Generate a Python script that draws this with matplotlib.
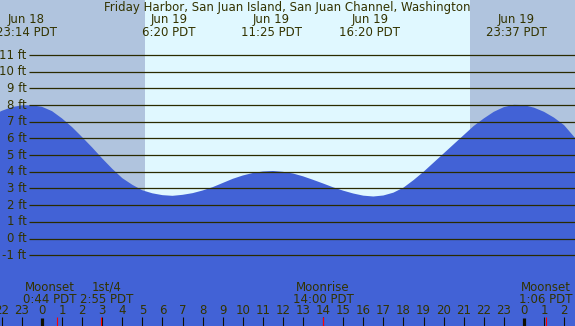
import matplotlib
matplotlib.use("Agg")
import matplotlib.pyplot as plt
import matplotlib.transforms as mtransforms
import numpy as np

# ---------------- data ----------------
title = "Friday Harbor, San Juan Island, San Juan Channel, Washington"

tide_hours = [-2.5, -2.0, -1.5, -1.0, -0.5, 0.0, 0.5, 1.0, 1.5, 2.0, 2.5, 3.0,
              3.5, 4.0, 4.5, 5.0, 5.5, 6.0, 6.5, 7.0, 7.5, 8.0, 8.5, 9.0,
              9.5, 10.0, 10.5, 11.0, 11.5, 12.0, 12.5, 13.0, 13.5, 14.0, 14.5, 15.0,
              15.5, 16.0, 16.5, 17.0, 17.5, 18.0, 18.5, 19.0, 19.5, 20.0, 20.5, 21.0,
              21.5, 22.0, 22.5, 23.0, 23.5, 24.0, 24.5, 25.0, 25.5, 26.0, 26.5, 27.0]
tide_heights = [7.36, 7.66, 7.88, 7.99, 7.99, 7.90, 7.64, 7.20, 6.68, 6.08, 5.46, 4.80,
                4.18, 3.62, 3.22, 2.89, 2.71, 2.60, 2.56, 2.62, 2.72, 2.88, 3.08, 3.33,
                3.58, 3.78, 3.93, 4.02, 4.05, 4.00, 3.90, 3.73, 3.52, 3.30, 3.07, 2.87,
                2.70, 2.57, 2.52, 2.58, 2.75, 3.05, 3.50, 4.00, 4.55, 5.10, 5.65, 6.20,
                6.75, 7.20, 7.60, 7.88, 8.02, 8.00, 7.85, 7.60, 7.25, 6.80, 6.10, 5.40]

extreme_hours = [-0.767, 6.333, 11.417, 16.333, 23.617]
extreme_dates = ["Jun 18", "Jun 19", "Jun 19", "Jun 19", "Jun 19"]
extreme_times = ["23:14 PDT", "6:20 PDT", "11:25 PDT", "16:20 PDT", "23:37 PDT"]

sunrise_hour = 5.13
sunset_hour = 21.31

grid_levels = [-1, 0, 1, 2, 3, 4, 5, 6, 7, 8, 9, 10, 11]
hour_ticks = list(range(-2, 27))
hour_labels = [str(h % 24) for h in hour_ticks]
midnight_hours = [0, 24]

moon_event_hours = [0.733, 2.917, 14.0, 25.1]
moon_event_names = ["Moonset", "1st/4", "Moonrise", "Moonset"]
moon_event_times = ["0:44 PDT", "2:55 PDT", "14:00 PDT", "1:06 PDT"]
moon_label_shift_px = [-6.5, 6.5, 0, 0]

# ---------------- style ----------------
W, H = 575, 326
PX_PER_HOUR = 20.08
PX_PER_FT = 16.67
X0_PX = 42.0     # pixel of hour 0
Y0_PX = 238.5    # pixel of 0 ft (from top)

night_color = "#b0c4de"
day_color = "#e0f8ff"
water_color = "#4262d6"
text_color = "#333300"
line_color = "#2b2b00"
fs = 8.5

plt.rcParams["font.family"] = ["DejaVu Sans"]

fig = plt.figure(figsize=(W / 100, H / 100), dpi=100)
ax = fig.add_axes([0, 0, 1, 1])
xmin = -X0_PX / PX_PER_HOUR
xmax = (W - X0_PX) / PX_PER_HOUR
ymax = Y0_PX / PX_PER_FT
ymin = -(H - Y0_PX) / PX_PER_FT
ax.set_xlim(xmin, xmax)
ax.set_ylim(ymin, ymax)
ax.axis("off")

# background day / night
ax.axvspan(xmin, xmax, color=day_color, zorder=0, lw=0)
ax.axvspan(xmin, sunrise_hour, color=night_color, zorder=0.5, lw=0)
ax.axvspan(sunset_hour, xmax, color=night_color, zorder=0.5, lw=0)

# water
ax.fill_between(tide_hours, ymin - 1, tide_heights, color=water_color, lw=0, zorder=1)

# grid lines and labels
grid_start = (29 - X0_PX) / PX_PER_HOUR
ax.hlines(grid_levels, grid_start, xmax, colors=line_color, lw=0.9, zorder=2)
lbl_x = (26.5 - X0_PX) / PX_PER_HOUR
for lv in grid_levels:
    ax.text(lbl_x, lv, f"{lv} ft", ha="right", va="center", fontsize=fs,
            color=text_color, zorder=3)

# transforms: x in data, y in figure pixels from top
blend = mtransforms.blended_transform_factory(ax.transData, fig.transFigure)
def fy(ypx):
    return 1 - ypx / H

# title
fig.text(0.5, fy(8), title, ha="center", va="center", fontsize=fs, color=text_color)

# extreme labels
for h, d, t in zip(extreme_hours, extreme_dates, extreme_times):
    ax.text(h, fy(20), d, transform=blend, ha="center", va="center", fontsize=fs,
            color=text_color, zorder=4)
    ax.text(h, fy(32), t, transform=blend, ha="center", va="center", fontsize=fs,
            color=text_color, zorder=4)

# hour ticks
for h, lab in zip(hour_ticks, hour_labels):
    ax.text(h, fy(311), lab, transform=blend, ha="center", va="center", fontsize=fs,
            color=text_color, zorder=4)
    if h in midnight_hours:
        ax.plot([h, h], [fy(318), fy(326)], transform=blend, color="#111100",
                lw=2.3, solid_capstyle="butt", zorder=4)
    else:
        ax.plot([h, h], [fy(317), fy(326)], transform=blend, color="#111100",
                lw=0.8, solid_capstyle="butt", zorder=4)

# moon events
for h, n, t, s in zip(moon_event_hours, moon_event_names, moon_event_times,
                      moon_label_shift_px):
    ax.plot([h, h], [fy(317), fy(326)], transform=blend, color="#ff0000",
            lw=0.8, solid_capstyle="butt", zorder=5)
    off = mtransforms.offset_copy(blend, fig=fig, x=s, y=0, units="dots")
    ax.text(h, fy(287.5), n, transform=off, ha="center", va="center", fontsize=fs,
            color=text_color, zorder=4)
    ax.text(h, fy(299.5), t, transform=off, ha="center", va="center", fontsize=fs,
            color=text_color, zorder=4)

fig.savefig("out.png", dpi=100)
